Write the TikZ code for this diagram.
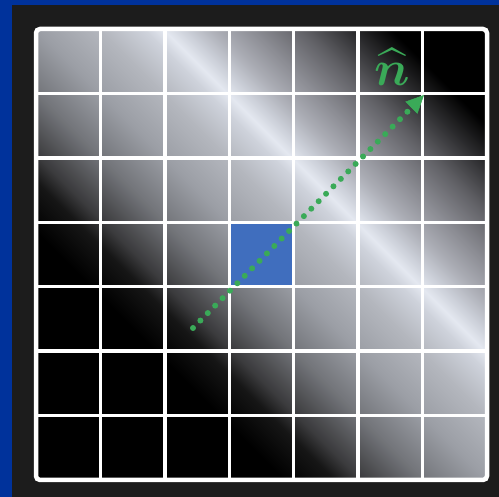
\documentclass[tikz,border=0pt]{standalone}
\usepackage{amsmath,amssymb}
\usepackage{tikz}
\usetikzlibrary{arrows.meta}
\usepackage{xcolor}

\definecolor{framebg}{RGB}{0,50,155}
\definecolor{framedark}{RGB}{28,28,28}
\definecolor{normalgreen}{RGB}{58,170,88}
\definecolor{cellblue}{RGB}{64,110,190}
\definecolor{shA}{RGB}{22,22,22}
\definecolor{shB}{RGB}{58,58,60}
\definecolor{shC}{RGB}{115,117,122}
\definecolor{shD}{RGB}{155,158,165}
\definecolor{shE}{RGB}{180,183,190}
\definecolor{shF}{RGB}{206,210,219}
\definecolor{shG}{RGB}{228,232,240}
\definecolor{shH}{RGB}{172,174,182}
\definecolor{shI}{RGB}{140,141,148}
\definecolor{shJ}{RGB}{96,96,101}
\definecolor{shK}{RGB}{40,40,42}
\pgfdeclarehorizontalshading{ridge}{100bp}{color(0bp)=(black); color(34bp)=(black);
  color(38bp)=(shA); color(40bp)=(shB); color(45bp)=(shC); color(50bp)=(shD);
  color(55bp)=(shE); color(58.5bp)=(shF); color(60bp)=(shG); color(61.5bp)=(shF);
  color(64bp)=(shH); color(67bp)=(shI); color(71bp)=(shJ); color(75bp)=(shK);
  color(78bp)=(black); color(100bp)=(black)}

\begin{document}
\begin{tikzpicture}[x=1pt, y=1pt,
  gridline/.style={white, line width=3.5pt},
  normal/.style={normalgreen, line width=6pt, line cap=round, dash pattern=on 0pt off 10.5pt},
  normaltip/.style={-{Triangle[length=18pt, width=17pt, line width=0.5pt]}}
]
\useasboundingbox (0,0) rectangle (499,497);
\fill[framebg] (0,0) rectangle (499,497);
\fill[framedark] (12,0) rectangle (499,492);
% grid of cells
\def\cell{64.43}
\begin{scope}[shift={(36,17)}]
  \shade[shading=ridge, shading angle=45] (0,0) rectangle (451,451);
  \fill[cellblue] (3*\cell,3*\cell) rectangle (4*\cell,4*\cell);
  \foreach \i in {1,...,6} {
    \draw[gridline] (\i*\cell,0) -- (\i*\cell,451);
    \draw[gridline] (0,\i*\cell) -- (451,\i*\cell);
  }
  \draw[gridline, line width=4.5pt, rounded corners=4pt] (0,0) rectangle (451,451);
\end{scope}
% normal vector
\coordinate (tail) at (193,169);
\coordinate (head) at (424,402);
\draw[normal, normaltip] (tail) -- (head);
\node[text=normalgreen, font=\Huge, scale=2] (nhat) at (392,430) {$\boldsymbol{\widehat{n}}$};
\end{tikzpicture}
\end{document}
